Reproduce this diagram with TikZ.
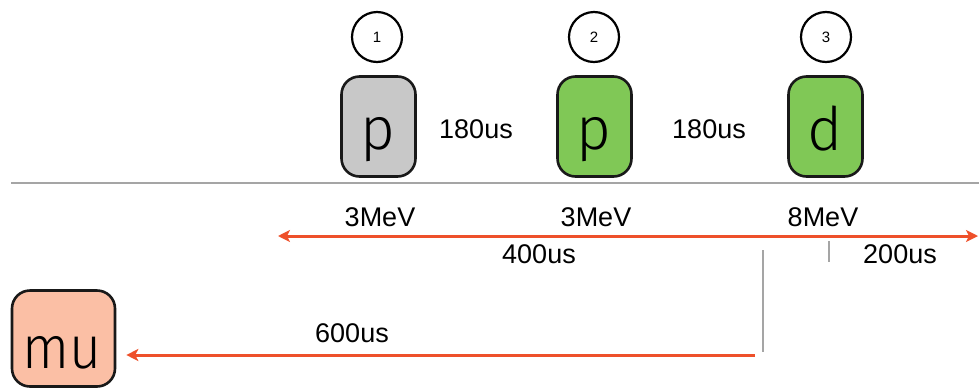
\documentclass[tikz,border=0pt]{standalone}
\usepackage{fontspec}
\setmainfont{Liberation Sans}
\IfFontExistsTF{Fira Sans Light}
  {\newfontfamily\thinfont{Fira Sans Light}}
  {\newfontfamily\thinfont{Liberation Sans}}
\usetikzlibrary{arrows.meta}

\definecolor{boxgray}{RGB}{200,200,200}
\definecolor{boxgreen}{RGB}{128,200,86}
\definecolor{boxsalmon}{RGB}{251,191,165}
\definecolor{beamred}{RGB}{238,80,42}
\definecolor{rulegray}{RGB}{165,165,165}

\tikzset{
  particle/.style={draw=black!90, line width=2.6pt, rounded corners=18pt,
    minimum width=74pt, minimum height=100pt, inner sep=0pt},
  letter/.style={font=\thinfont\fontsize{60}{60}\selectfont, inner sep=0pt, anchor=base},
  stepnum/.style={circle, draw=black, line width=2.2pt, minimum size=50pt,
    inner sep=0pt, font=\fontsize{15}{15}\selectfont},
  lbl/.style={font=\fontsize{27}{27}\selectfont, inner sep=0pt, anchor=base},
  beam/.style={draw=beamred, line width=3pt},
  beamtip/.tip={Stealth[length=12pt,width=12pt,inset=3pt]},
  guide/.style={draw=rulegray, line width=2.2pt}
}

\begin{document}
\begin{tikzpicture}[x=1pt,y=-1pt]
  \useasboundingbox (0,0) rectangle (979,389);

  % step markers
  \node[stepnum] (c1) at (377,37) {1};
  \node[stepnum] (c2) at (594,37) {2};
  \node[stepnum] (c3) at (826,37) {3};

  % particle boxes
  \node[particle, fill=boxgray]  (p1) at (378.5,126.5) {};
  \node[particle, fill=boxgreen] (p2) at (594.5,126.5) {};
  \node[particle, fill=boxgreen] (d)  at (825.5,126.5) {};
  \node[letter] (p1t) at (378,149) {p};
  \node[letter] (p2t) at (594,149) {p};
  \node[letter] (dt)  at (825,150) {d};

  % muon box
  \node[particle, fill=boxsalmon, minimum width=103pt, minimum height=96pt]
    (mu) at (63.5,338.5) {};
  \node[letter, font=\thinfont\fontsize{60}{60}\selectfont, xscale=0.92] (mut) at (62,368) {mu};

  % delays between steps
  \node[lbl] (t12) at (476,138) {180us};
  \node[lbl] (t23) at (709,138) {180us};

  % separator
  \coordinate (sepL) at (11,183);
  \coordinate (sepR) at (979,183);
  \draw[guide] (sepL) -- (sepR);

  % energies
  \node[lbl] (e1) at (380,226) {3MeV};
  \node[lbl] (e2) at (596,226) {3MeV};
  \node[lbl] (e3) at (823,226) {8MeV};

  % time axis
  \coordinate (axL) at (278,236);
  \coordinate (axR) at (978,236);
  \draw[beam, beamtip-beamtip] (axL) -- (axR);
  \node[lbl] (t400) at (539,263) {400us};
  \node[lbl] (t200) at (900,263) {200us};

  % markers
  \coordinate (tickT) at (829,241);
  \coordinate (tickB) at (829,262);
  \draw[guide] (tickT) -- (tickB);
  \coordinate (vT) at (763,250);
  \coordinate (vB) at (763,352);
  \draw[guide] (vT) -- (vB);

  % return to muon
  \coordinate (mR) at (755,355);
  \draw[beam, -beamtip, shorten >=10pt] (mR) -- (mu.east |- mR);
  \node[lbl] (t600) at (352,342) {600us};
\end{tikzpicture}
\end{document}
